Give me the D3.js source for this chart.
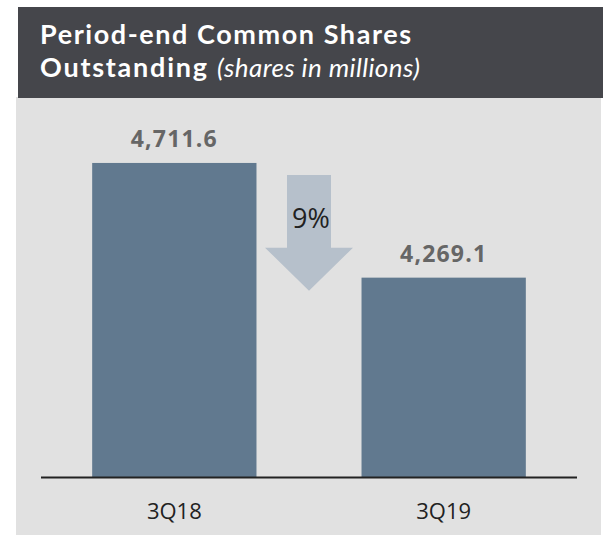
<!DOCTYPE html>
<html><head><meta charset="utf-8">
<script src="https://cdn.jsdelivr.net/npm/d3@7/dist/d3.min.js"></script>
<style>
html,body{margin:0;padding:0;background:#fff;}
svg{display:block;font-family:"Open Sans",sans-serif;}
</style></head>
<body><svg id="c" width="603" height="535"></svg>
<script>
const categories = ["3Q18", "3Q19"];
const values = [4711.6, 4269.1];
const valueLabels = ["4,711.6", "4,269.1"];
const changeLabel = "9%";
const titleLine1 = "Period-end Common Shares";
const titleLine2Bold = "Outstanding";
const titleLine2Italic = "(shares in millions)";

(function(){
const svg = d3.select("#c");

// panels
svg.append("rect").attr("x",16).attr("y",97).attr("width",585).attr("height",438).attr("fill","#e1e1e1");
svg.append("rect").attr("x",18).attr("y",7).attr("width",585).attr("height",91).attr("fill","#45464b");

// title (one text element, two lines)
const t = svg.append("text").attr("x",40).attr("y",44).attr("fill","#fff")
  .attr("font-size",27).attr("font-family","Lato, 'Open Sans', sans-serif");
t.append("tspan").attr("x",40).attr("y",44).attr("font-weight",700)
  .attr("textLength",371).attr("lengthAdjust","spacing").text(titleLine1);
t.append("tspan").attr("x",40).attr("y",77).attr("font-weight",700)
  .attr("textLength",167).attr("lengthAdjust","spacing").text(titleLine2Bold);
t.append("tspan").attr("x",217).attr("y",77).attr("font-style","italic").attr("font-weight",400)
  .attr("font-size",26).attr("textLength",203).attr("lengthAdjust","spacing").text(titleLine2Italic);

// scales
const x = d3.scaleBand().domain(categories).range([41,577]).paddingInner(0.39).paddingOuter(0.19);
const y = d3.scaleLinear().domain([3500,5000]).range([477,88.2]);

// bars
svg.append("g").selectAll("rect").data(values).join("rect")
  .attr("x",(d,i)=>x(categories[i]))
  .attr("y",d=>y(d))
  .attr("width",x.bandwidth())
  .attr("height",d=>y(3500)-y(d))
  .attr("fill","#61798f");

// value labels
svg.append("g").selectAll("text").data(values).join("text")
  .attr("x",(d,i)=>x(categories[i])+x.bandwidth()/2)
  .attr("y",d=>y(d)-16)
  .attr("text-anchor","middle")
  .attr("font-size",23).attr("font-weight",700).attr("letter-spacing",1.2)
  .attr("fill","#666666")
  .text((d,i)=>valueLabels[i]);

// axis
const axis = d3.axisBottom(x).tickSize(0).tickPadding(26);
const ag = svg.append("g").attr("transform","translate(0,"+y(3500)+")").call(axis);
ag.select(".domain").attr("stroke","#222").attr("stroke-width",2).attr("d","M41,0.5H577");
ag.selectAll(".tick text").attr("font-size",22).attr("fill","#222").attr("font-family","'Open Sans',sans-serif");

// change arrow between bars
const cx = (x(categories[0]) + x.bandwidth() + x(categories[1])) / 2;
const aTop = y(values[0]) + 12;
const aTip = y(values[1]) + 13;
const shaftHalf = 22, headHalf = 44, headBase = aTip - 43;
const arrow = d3.path();
arrow.moveTo(cx-shaftHalf, aTop);
arrow.lineTo(cx+shaftHalf, aTop);
arrow.lineTo(cx+shaftHalf, headBase);
arrow.lineTo(cx+headHalf, headBase);
arrow.lineTo(cx, aTip);
arrow.lineTo(cx-headHalf, headBase);
arrow.lineTo(cx-shaftHalf, headBase);
arrow.closePath();
svg.append("path").attr("d",arrow.toString()).attr("fill","#b6c0cb");
svg.append("text").attr("x",cx+2).attr("y",aTop+53).attr("text-anchor","middle")
  .attr("font-size",27).attr("fill","#222").text(changeLabel);
})();
</script></body></html>
